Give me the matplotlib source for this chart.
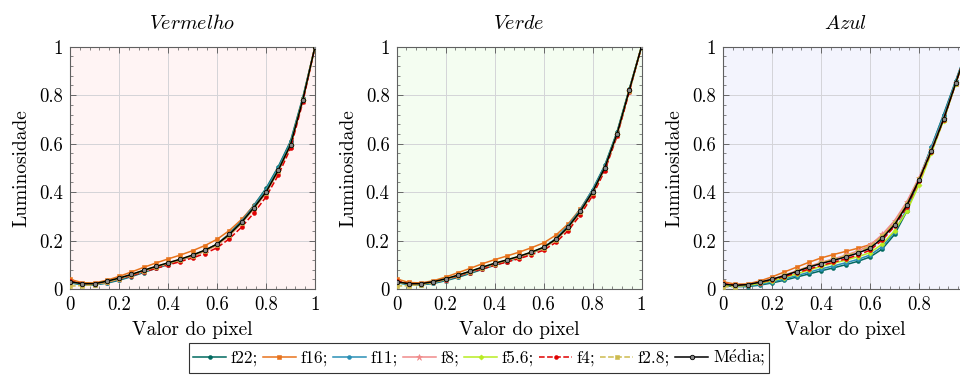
import matplotlib
matplotlib.use("Agg")
import matplotlib.pyplot as plt
from matplotlib.ticker import MultipleLocator

plt.rcParams['font.family'] = ['cmr10', 'DejaVu Serif']
plt.rcParams['mathtext.fontset'] = 'cm'
plt.rcParams['axes.formatter.use_mathtext'] = True
plt.rcParams['font.size'] = 13

# pixel values (shared x)
x = [0.00, 0.05, 0.10, 0.15, 0.20, 0.25, 0.30, 0.35, 0.40, 0.45, 0.50,
     0.55, 0.60, 0.65, 0.70, 0.75, 0.80, 0.85, 0.90, 0.95, 1.00]

# Vermelho
red_f22 = [0.025, 0.018, 0.017, 0.024, 0.036, 0.051, 0.068, 0.085, 0.101, 0.118, 0.136, 0.157, 0.184, 0.228, 0.282, 0.345, 0.415, 0.505, 0.610, 0.790, 1.000]
red_f16 = [0.040, 0.026, 0.025, 0.036, 0.052, 0.070, 0.089, 0.107, 0.124, 0.140, 0.158, 0.179, 0.205, 0.241, 0.287, 0.343, 0.405, 0.492, 0.597, 0.780, 1.000]
red_f11 = [0.027, 0.019, 0.018, 0.026, 0.039, 0.054, 0.071, 0.088, 0.104, 0.120, 0.138, 0.158, 0.185, 0.228, 0.280, 0.342, 0.410, 0.500, 0.605, 0.785, 1.000]
red_f8 = [0.030, 0.021, 0.020, 0.029, 0.042, 0.057, 0.073, 0.089, 0.104, 0.119, 0.135, 0.155, 0.180, 0.220, 0.270, 0.330, 0.395, 0.485, 0.590, 0.775, 1.000]
red_f56 = [0.030, 0.022, 0.022, 0.031, 0.044, 0.059, 0.076, 0.092, 0.107, 0.122, 0.139, 0.159, 0.184, 0.224, 0.274, 0.334, 0.400, 0.490, 0.595, 0.780, 1.000]
red_f4 = [0.032, 0.022, 0.021, 0.029, 0.041, 0.055, 0.070, 0.085, 0.099, 0.113, 0.128, 0.146, 0.170, 0.207, 0.255, 0.313, 0.380, 0.470, 0.580, 0.770, 1.000]
red_f28 = [0.012, 0.014, 0.018, 0.028, 0.042, 0.058, 0.075, 0.091, 0.106, 0.121, 0.138, 0.158, 0.183, 0.223, 0.273, 0.333, 0.398, 0.488, 0.593, 0.778, 1.000]
red_mean = [0.030, 0.022, 0.022, 0.032, 0.045, 0.060, 0.077, 0.093, 0.108, 0.123, 0.140, 0.160, 0.185, 0.225, 0.275, 0.335, 0.400, 0.490, 0.595, 0.780, 1.000]

# Verde
green_f22 = [0.026, 0.018, 0.017, 0.023, 0.034, 0.048, 0.064, 0.081, 0.098, 0.113, 0.129, 0.147, 0.169, 0.206, 0.260, 0.328, 0.410, 0.510, 0.648, 0.825, 1.000]
green_f16 = [0.042, 0.027, 0.025, 0.034, 0.049, 0.067, 0.085, 0.104, 0.121, 0.136, 0.152, 0.170, 0.190, 0.222, 0.268, 0.330, 0.405, 0.502, 0.640, 0.820, 1.000]
green_f11 = [0.027, 0.019, 0.018, 0.025, 0.036, 0.051, 0.067, 0.084, 0.101, 0.116, 0.132, 0.150, 0.171, 0.208, 0.261, 0.327, 0.408, 0.507, 0.645, 0.823, 1.000]
green_f8 = [0.030, 0.021, 0.020, 0.028, 0.039, 0.054, 0.070, 0.086, 0.102, 0.116, 0.131, 0.148, 0.168, 0.201, 0.250, 0.315, 0.395, 0.495, 0.635, 0.817, 1.000]
green_f56 = [0.030, 0.022, 0.021, 0.029, 0.041, 0.056, 0.072, 0.089, 0.105, 0.119, 0.134, 0.151, 0.171, 0.204, 0.254, 0.319, 0.399, 0.499, 0.639, 0.819, 1.000]
green_f4 = [0.033, 0.022, 0.021, 0.028, 0.039, 0.053, 0.068, 0.083, 0.098, 0.111, 0.125, 0.141, 0.160, 0.192, 0.240, 0.305, 0.385, 0.488, 0.630, 0.813, 1.000]
green_f28 = [0.012, 0.014, 0.018, 0.027, 0.040, 0.055, 0.071, 0.088, 0.104, 0.118, 0.133, 0.150, 0.170, 0.203, 0.253, 0.318, 0.398, 0.498, 0.638, 0.818, 1.000]
green_mean = [0.030, 0.022, 0.022, 0.030, 0.042, 0.057, 0.073, 0.090, 0.106, 0.120, 0.135, 0.152, 0.172, 0.205, 0.255, 0.320, 0.400, 0.500, 0.640, 0.820, 1.000]

# Azul
blue_f22 = [0.015, 0.010, 0.010, 0.016, 0.025, 0.036, 0.049, 0.062, 0.075, 0.087, 0.100, 0.114, 0.132, 0.165, 0.225, 0.320, 0.450, 0.585, 0.720, 0.860, 1.000]
blue_f16 = [0.030, 0.020, 0.021, 0.033, 0.050, 0.070, 0.090, 0.110, 0.128, 0.142, 0.155, 0.168, 0.183, 0.218, 0.270, 0.348, 0.450, 0.568, 0.698, 0.848, 1.000]
blue_f11 = [0.018, 0.012, 0.012, 0.019, 0.029, 0.041, 0.055, 0.069, 0.083, 0.095, 0.108, 0.122, 0.140, 0.175, 0.235, 0.330, 0.455, 0.585, 0.715, 0.858, 1.000]
blue_f8 = [0.020, 0.015, 0.018, 0.028, 0.041, 0.057, 0.075, 0.093, 0.110, 0.124, 0.139, 0.157, 0.180, 0.225, 0.282, 0.360, 0.460, 0.575, 0.702, 0.850, 1.000]
blue_f56 = [0.018, 0.013, 0.015, 0.023, 0.034, 0.047, 0.062, 0.078, 0.093, 0.106, 0.119, 0.133, 0.150, 0.185, 0.240, 0.320, 0.430, 0.560, 0.695, 0.848, 1.000]
blue_f4 = [0.022, 0.016, 0.018, 0.026, 0.037, 0.051, 0.066, 0.082, 0.097, 0.110, 0.124, 0.140, 0.160, 0.202, 0.258, 0.338, 0.445, 0.567, 0.698, 0.849, 1.000]
blue_f28 = [0.008, 0.010, 0.016, 0.027, 0.040, 0.056, 0.074, 0.092, 0.108, 0.122, 0.137, 0.154, 0.175, 0.218, 0.273, 0.352, 0.455, 0.572, 0.700, 0.850, 1.000]
blue_mean = [0.020, 0.015, 0.018, 0.028, 0.040, 0.055, 0.072, 0.090, 0.105, 0.118, 0.132, 0.148, 0.168, 0.210, 0.265, 0.345, 0.450, 0.570, 0.700, 0.850, 1.000]

labels = ['f22;', 'f16;', 'f11;', 'f8;', 'f5.6;', 'f4;', 'f2.8;', r'M$\acute{\mathrm{e}}$dia;']
colors = ['#00695f', '#e8731c', '#2a8fb5', '#f08a8a', '#b8ec22', '#e00000', '#cdbb4e', 'black']
markers = ['o', 's', 'o', '*', 'D', 'o', 's', 'o']
styles = ['-', '-', '-', '-', '-', '--', '--', '-']

panels = [
    ('$Vermelho$', '#fff4f4', [red_f22, red_f16, red_f11, red_f8, red_f56, red_f4, red_f28, red_mean]),
    ('$Verde$', '#f4fdf1', [green_f22, green_f16, green_f11, green_f8, green_f56, green_f4, green_f28, green_mean]),
    ('$Azul$', '#f3f4fd', [blue_f22, blue_f16, blue_f11, blue_f8, blue_f56, blue_f4, blue_f28, blue_mean]),
]

fig = plt.figure(figsize=(9.6, 3.76), dpi=100)

W, H = 960, 376
lefts = [70, 396.5, 723]
handles = []
for i, (title, bg, series) in enumerate(panels):
    ax = fig.add_axes([lefts[i] / W, (H - 289) / H, 245 / W, 242.3 / H])
    ax.set_facecolor(bg)
    for k, ys in enumerate(series):
        ms = 4.5 if markers[k] == '*' else 2.8
        if markers[k] == 'D':
            ms = 2.6
        if k == 7:
            h, = ax.plot(x, ys, linestyle='-', color='black', lw=1.1, marker='o',
                         markersize=3.2, markerfacecolor='#888888', markeredgecolor='black',
                         markeredgewidth=0.6, label=labels[k], zorder=3 + k)
        else:
            h, = ax.plot(x, ys, linestyle=styles[k], color=colors[k], lw=1.1,
                         marker=markers[k], markersize=ms, markeredgewidth=0.4,
                         label=labels[k], zorder=3 + k)
        if i == 0:
            handles.append(h)
    ax.set_xlim(0, 1)
    ax.set_ylim(0, 1)
    ax.xaxis.set_minor_locator(MultipleLocator(0.04))
    ax.yaxis.set_minor_locator(MultipleLocator(0.04))
    ax.set_xticks([0, 0.2, 0.4, 0.6, 0.8, 1])
    xt = ['0', '0.2', '0.4', '0.6', '0.8', '1']
    if i == 2:
        xt[-1] = ''  # off the canvas in the reference
    ax.set_xticklabels(xt)
    ax.set_yticks([0, 0.2, 0.4, 0.6, 0.8, 1])
    ax.set_yticklabels(['0', '0.2', '0.4', '0.6', '0.8', '1'])
    ax.tick_params(which='both', direction='in', top=True, right=True, colors='#555555',
                   labelcolor='black', labelsize=13.5)
    ax.tick_params(which='major', length=4, width=0.6, pad=5)
    ax.tick_params(which='minor', length=2, width=0.5)
    ax.grid(True, which='major', color='#d4d4d8', lw=0.7)
    for s in ax.spines.values():
        s.set_color('#606060')
        s.set_linewidth(0.8)
    ax.set_title(title, fontsize=14.5, pad=13)
    ax.set_xlabel('Valor do pixel', fontsize=14, labelpad=5)
    ax.set_ylabel('Luminosidade', fontsize=14, labelpad=6)

leg = fig.legend(handles=handles, labels=labels, loc='center', ncol=8,
                 bbox_to_anchor=(479 / W, 1 - 358 / H), frameon=True, fancybox=False,
                 edgecolor='#333333', fontsize=12.5, handlelength=1.9, handletextpad=0.25,
                 columnspacing=0.3, borderpad=0.25, framealpha=1)
leg.get_frame().set_linewidth(0.8)

fig.savefig('out.png', dpi=100)
